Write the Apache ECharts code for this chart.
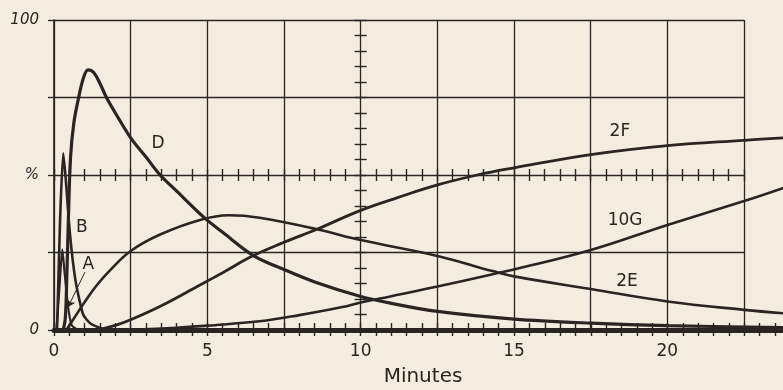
<!DOCTYPE html>
<html><head><meta charset="utf-8">
<script src="https://cdn.jsdelivr.net/npm/echarts@6.0.0/dist/echarts.min.js"></script>
<style>html,body{margin:0;padding:0;background:#f3ecdf}#c{width:783px;height:390px}</style>
</head><body><div id="c"></div>
<script>
// ---- data (minutes, percent) ----
const xTickLabels = {0:'0', 5:'5', 10:'10', 15:'15', 20:'20'};
const yTickLabels = {0:'0', 50:'%', 100:'100'};
const xAxisTitle = 'Minutes';

const curveA = [[0.08,0],[0.18,14],[0.27,26],[0.35,18],[0.46,7.4],[0.58,1.5],[0.8,0]];
const curveB = [[0.1,0],[0.2,36],[0.3,57],[0.38,49],[0.52,31],[0.7,16],[0.95,5],[1.2,2],[1.6,0.4],[2.2,0]];
const curveD = [[0.3,0],[0.37,4],[0.42,18],[0.47,36],[0.54,55.8],[0.65,67],[0.8,74.8],[0.95,81],[1.11,83.9],[1.3,83],[1.5,79.5],[1.71,75],[2.0,70],[2.5,62],[3.0,55.8],[3.46,50],[4.0,44.8],[4.87,36.5],[5.5,31.5],[6.5,24],[7.5,19.5],[8.5,15.5],[10,10.8],[11,8.6],[12.5,6],[15,3.5],[17.5,2.2],[20,1.4],[23.8,0.8]];
const curve2E = [[0.4,0],[0.6,3],[1.0,9],[1.4,14.5],[1.84,19.4],[2.5,25.5],[3.46,30.8],[4.76,35.5],[5.7,37],[6.7,36.2],[8.57,32.5],[10,29],[12.5,23.9],[14.3,19],[15,17.3],[17.5,13.2],[20,9.2],[22.5,6.5],[23.8,5.4]];
const curve2F = [[1.4,0],[2.0,1.5],[2.5,3.3],[3.5,7.8],[4.76,14.5],[5.5,18.5],[6.5,24],[7.5,28.3],[8.57,32.5],[10,38.6],[11.2,42.7],[12.5,46.8],[13.8,50],[15,52.3],[17.5,56.6],[20,59.5],[22.5,61.2],[23.8,62]];
const curve10G = [[2.5,0],[4,0.7],[5,1.4],[6.7,2.8],[8,4.8],[9.4,7.4],[10,8.9],[11,10.9],[12.5,14],[14.3,18],[15,19.5],[17.5,25.8],[20,33.9],[22.5,41.6],[23.8,45.9]];

// label anchors (data units)
const labelSpots = {D:[3.39,60.2], B:[0.91,33.1], A:[1.12,21.1], '2F':[18.45,64], '10G':[18.62,35.2], '2E':[18.68,15.5]};
const arrowA = [[1.01,18.7],[0.46,7.4]];

// ---- styling ----
const INK = '#2a2521';
const FONT = 'DejaVu Sans';

function curve(name, data, width, smooth){
  return {
    type:'line', name, data, xAxisIndex:0, yAxisIndex:0,
    symbol:'none', showSymbol:false, smooth,
    lineStyle:{color:INK, width}, z:5, silent:true, animation:false,
    markPoint:{
      symbol:'circle', symbolSize:1, silent:true, animation:false,
      itemStyle:{color:'rgba(0,0,0,0)'},
      label:{show:true, position:'inside', formatter:name, fontSize:17, fontFamily:FONT, color:INK},
      data:[{coord:labelSpots[name]}]
    }
  };
}

const seriesA = curve('A', curveA, 2.2, 0.2);
seriesA.markLine = {
  silent:true, animation:false, symbol:['none','arrow'], symbolSize:7,
  lineStyle:{color:INK, width:1, type:'solid'}, label:{show:false},
  data:[[{coord:arrowA[0]},{coord:arrowA[1]}]]
};

const tickStyle = {color:INK, width:1.4};
const option = {
  backgroundColor:'#f3ecdf',
  animation:false,
  grid:[
    {left:54, top:20, width:730, bottom:60, outerBoundsMode:'none', containLabel:false},
    {left:54, top:20, width:690, bottom:60, outerBoundsMode:'none', containLabel:false}
  ],
  xAxis:[
    // 0: data axis (thick bottom line)
    {gridIndex:0, type:'value', position:'bottom', min:0, max:23.8,
     axisLine:{show:true, onZero:true, onZeroAxisIndex:0, lineStyle:{color:INK, width:5}},
     axisTick:{show:false}, axisLabel:{show:false}, splitLine:{show:false},
     name:xAxisTitle, nameLocation:'middle', nameGap:37,
     nameTextStyle:{fontSize:20, fontFamily:FONT, color:INK, padding:[0,0,0,8]}},
    // 1,2: bottom crossing ticks
    {gridIndex:0, type:'value', position:'bottom', min:0, max:23.8, interval:0.5,
     axisLine:{show:false, onZero:true, onZeroAxisIndex:0},
     axisTick:{show:true, inside:true, length:7, lineStyle:tickStyle}, axisLabel:{show:false}, splitLine:{show:false}},
    {gridIndex:0, type:'value', position:'bottom', min:0, max:23.8, interval:0.5,
     axisLine:{show:false, onZero:true, onZeroAxisIndex:0},
     axisTick:{show:true, inside:false, length:6, lineStyle:tickStyle}, axisLabel:{show:false}, splitLine:{show:false}},
    // 3: grid verticals + labels
    {gridIndex:1, type:'value', position:'bottom', min:0, max:22.5, interval:2.5, axisLine:{show:false}, axisTick:{show:false},
     splitLine:{show:true, lineStyle:{color:INK, width:1.3}},
     axisLabel:{show:true, margin:13, fontSize:17, fontFamily:FONT, color:INK,
       formatter:v => (xTickLabels[v] !== undefined ? xTickLabels[v] : '')}},
    // 4,5: ticks on the 50% line
    {gridIndex:1, type:'value', position:'bottom', min:0, max:22.5, interval:0.5,
     axisLine:{show:false, onZero:true, onZeroAxisIndex:2},
     axisTick:{show:true, inside:true, length:6, lineStyle:tickStyle}, axisLabel:{show:false}, splitLine:{show:false}},
    {gridIndex:1, type:'value', position:'bottom', min:0, max:22.5, interval:0.5,
     axisLine:{show:false, onZero:true, onZeroAxisIndex:2},
     axisTick:{show:true, inside:false, length:6, lineStyle:tickStyle}, axisLabel:{show:false}, splitLine:{show:false}},
    // 6: helper so that its zero sits at 10 minutes
    {gridIndex:1, type:'value', min:-10, max:12.5, show:false}
  ],
  yAxis:[
    // 0: data axis
    {gridIndex:0, type:'value', min:0, max:100, show:false},
    // 1: grid horizontals, left line, labels
    {gridIndex:1, type:'value', position:'left', min:0, max:100, interval:25,
     axisLine:{show:true, lineStyle:{color:INK, width:1.6}},
     axisTick:{show:true, length:6, lineStyle:{color:INK, width:1.3}},
     splitLine:{show:true, lineStyle:{color:INK, width:1.3}},
     axisLabel:{show:true, margin:15, fontSize:15, fontStyle:'italic', fontFamily:FONT, color:INK,
       showMinLabel:true, showMaxLabel:true,
       formatter:v => (yTickLabels[v] !== undefined ? yTickLabels[v] : '')}},
    // 2: helper with zero at 50%
    {gridIndex:1, type:'value', min:-50, max:50, show:false},
    // 3,4: ticks on the 10-minute line
    {gridIndex:1, type:'value', min:0, max:100, interval:5, position:'left',
     axisLine:{show:false, onZero:true, onZeroAxisIndex:6},
     axisTick:{show:true, inside:true, length:6, lineStyle:tickStyle}, axisLabel:{show:false}, splitLine:{show:false}},
    {gridIndex:1, type:'value', min:0, max:100, interval:5, position:'left',
     axisLine:{show:false, onZero:true, onZeroAxisIndex:6},
     axisTick:{show:true, inside:false, length:6, lineStyle:tickStyle}, axisLabel:{show:false}, splitLine:{show:false}}
  ],
  series:[
    seriesA,
    curve('B', curveB, 2.6, 0.2),
    curve('D', curveD, 3.2, 0.35),
    curve('2E', curve2E, 2.6, 0.4),
    curve('2F', curve2F, 2.8, 0.4),
    curve('10G', curve10G, 2.6, 0.4)
  ]
};
const chart = echarts.init(document.getElementById('c'), null, {renderer:'canvas'});
chart.setOption(option);
</script>
</body></html>
